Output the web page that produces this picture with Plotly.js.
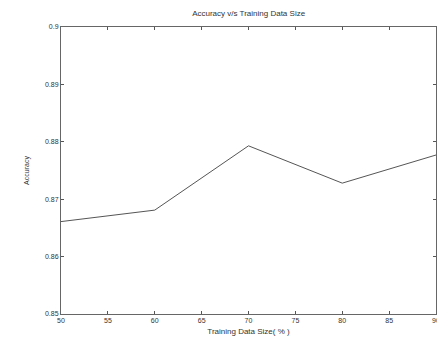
<!DOCTYPE html>
<html>
<head>
<meta charset="utf-8">
<script src="https://cdn.plot.ly/plotly-3.0.1.min.js"></script>
<style>html,body{margin:0;padding:0;background:#fff;}#chart{width:437px;height:345px;}</style>
</head>
<body>
<div id="chart"></div>
<script>
const trainingSize = [50, 60, 70, 80, 90];
const accuracy = [0.8661, 0.8681, 0.8793, 0.8728, 0.8777];
const xTickVals = [50, 55, 60, 65, 70, 75, 80, 85, 90];
const yTickVals = [0.85, 0.86, 0.87, 0.88, 0.89, 0.9];
const yTickText = ['0.85', '0.86', '0.87', '0.88', '0.89', '0.9'];

const fontFam = 'Liberation Sans, Arial, sans-serif';
const axisCommon = {
  showgrid: false, zeroline: false, showline: true, mirror: 'allticks',
  linecolor: '#666', linewidth: 1, ticks: 'inside', ticklen: 3, tickwidth: 1,
  tickcolor: '#555', ticklabeloverflow: 'allow',
  tickfont: {family: fontFam, size: 7, color: '#333'}
};
Plotly.newPlot('chart', [{
  x: trainingSize, y: accuracy, type: 'scatter', mode: 'lines',
  line: {color: '#555', width: 1}
}], {
  width: 437, height: 345,
  margin: {l: 61, r: 1, t: 27, b: 31},
  paper_bgcolor: '#fff', plot_bgcolor: '#fff', showlegend: false,
  title: {text: 'Accuracy v/s Training Data Size', font: {family: fontFam, size: 8, color: '#333'}, x: 0.569, xanchor: 'center', y: 0.962, yanchor: 'middle'},
  xaxis: Object.assign({}, axisCommon, {range: [50, 90], tickvals: xTickVals,
    title: {text: 'Training Data Size( % )', font: {family: fontFam, size: 8, color: '#333'}, standoff: 4}}),
  yaxis: Object.assign({}, axisCommon, {range: [0.85, 0.9], tickvals: yTickVals, ticktext: yTickText,
    title: {text: 'Accuracy', font: {family: fontFam, size: 7, color: '#333'}, standoff: 14}})
}, {staticPlot: true, displayModeBar: false});
</script>
</body>
</html>
